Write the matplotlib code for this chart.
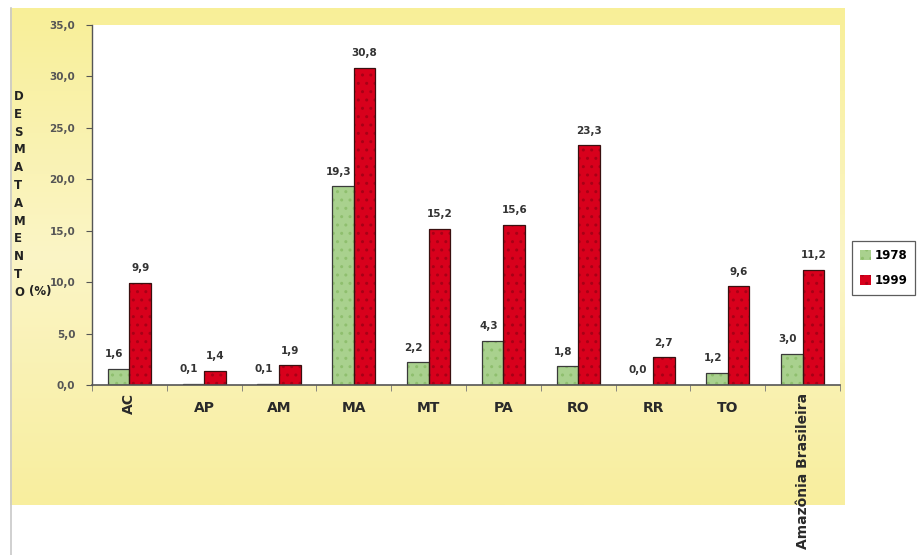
import matplotlib
matplotlib.use("Agg")
import matplotlib.pyplot as plt
import numpy as np
from matplotlib.colors import LinearSegmentedColormap

categories = ["AC", "AP", "AM", "MA", "MT", "PA", "RO", "RR", "TO", "Amazônia Brasileira"]
rotated = [True, False, False, False, False, False, False, False, False, True]
v1978 = [1.6, 0.1, 0.1, 19.3, 2.2, 4.3, 1.8, 0.0, 1.2, 3.0]
v1999 = [9.9, 1.4, 1.9, 30.8, 15.2, 15.6, 23.3, 2.7, 9.6, 11.2]
series_names = ["1978", "1999"]
yticks = [0, 5, 10, 15, 20, 25, 30, 35]

W, H = 919, 555
fig = plt.figure(figsize=(W / 100, H / 100), dpi=100)
fig.patch.set_facecolor("white")

# yellow background frame
bg = fig.add_axes([10 / W, 1 - 505 / H, 835 / W, 497 / H])
bg.set_axis_off()
grad = np.linspace(0, 1, 256).reshape(-1, 1)
cmap = LinearSegmentedColormap.from_list("y", ["#f8ef98", "#fbf5c6", "#f8ee9e"])
bg.imshow(grad, aspect="auto", cmap=cmap, extent=[0, 1, 0, 1], origin="upper")
bg.set_xlim(0, 1)
bg.set_ylim(0, 1)
fig.add_artist(plt.Line2D([11 / W, 11 / W], [0, 1 - 8 / H], transform=fig.transFigure,
                          color="#c8c8c8", lw=1.2))

ax = fig.add_axes([92 / W, 1 - 385 / H, (840 - 92) / W, (385 - 25) / H])
ax.set_facecolor("white")
x = np.arange(len(categories))
w = 0.29
b1 = ax.bar(x - w / 2, v1978, w, color="#a9d18e", edgecolor="#8fbf6e", linewidth=0,
            hatch="..", label=series_names[0])
b2 = ax.bar(x + w / 2, v1999, w, color="#d8001c", edgecolor="#a80016", linewidth=0,
            hatch="..", label=series_names[1])
ax.bar(x - w / 2, v1978, w, facecolor="none", edgecolor="#3a3a3a", linewidth=0.9)
ax.bar(x + w / 2, v1999, w, facecolor="none", edgecolor="#3a1010", linewidth=0.9)

for rect, v in zip(b1, v1978):
    ax.annotate(f"{v:.1f}".replace(".", ","), (rect.get_x() + rect.get_width() / 2, v),
                xytext=(-3, 7), textcoords="offset points", ha="center", va="bottom",
                fontsize=7.5, fontweight="bold", color="#333333")
for rect, v in zip(b2, v1999):
    ax.annotate(f"{v:.1f}".replace(".", ","), (rect.get_x() + rect.get_width() / 2, v),
                xytext=(0, 7), textcoords="offset points", ha="center", va="bottom",
                fontsize=7.5, fontweight="bold", color="#333333")

ax.set_xlim(-0.5, len(categories) - 0.5)
ax.set_ylim(0, 35)
ax.set_yticks(yticks)
ax.set_yticklabels([f"{t:.1f}".replace(".", ",") for t in yticks], fontsize=7.5,
                   fontweight="bold", color="#555555")
ax.tick_params(axis="y", length=4, width=0.8, color="#555555", pad=8)
ax.set_xticks(x)
ax.set_xticklabels([])
ax.tick_params(axis="x", length=0)
ax.set_xticks(np.arange(-0.5, len(categories), 1), minor=True)
ax.tick_params(axis="x", which="minor", length=4, color="#777777", direction="out")
for xi, (c, r) in enumerate(zip(categories, rotated)):
    if r:
        ax.text(xi, -0.8, c, rotation=90, ha="center", va="top", fontsize=10,
                fontweight="bold", color="#2a2a2a", clip_on=False)
    else:
        ax.text(xi, -1.6, c, ha="center", va="top", fontsize=10,
                fontweight="bold", color="#2a2a2a", clip_on=False)

for s in ["top", "right"]:
    ax.spines[s].set_visible(False)
ax.spines["left"].set_color("#555555")
ax.spines["bottom"].set_color("#555555")
ax.spines["left"].set_linewidth(1.0)
ax.spines["bottom"].set_linewidth(1.2)

# stacked vertical axis title "DESMATAMENTO (%)"
letters = "\n".join(list("DESMATAMENTO"))
fig.text(14 / W, 1 - 90 / H, letters, ha="left", va="top", fontsize=8.5,
         fontweight="bold", color="#222222", linespacing=1.48, multialignment="left")
fig.text(29 / W, 1 - 291 / H, "(%)", ha="left", va="center", fontsize=8.5,
         fontweight="bold", color="#222222")

leg = fig.legend(handles=[b1, b2], labels=series_names, loc="upper left",
                 bbox_to_anchor=(846 / W, 1 - 235 / H), frameon=True, fancybox=False,
                 edgecolor="#333333", handlelength=0.9, handleheight=0.9,
                 handletextpad=0.3, borderpad=0.7, labelspacing=1.0,
                 prop={"weight": "bold", "size": 8.5})
leg.get_frame().set_linewidth(0.9)

fig.savefig("out.png", dpi=100)
